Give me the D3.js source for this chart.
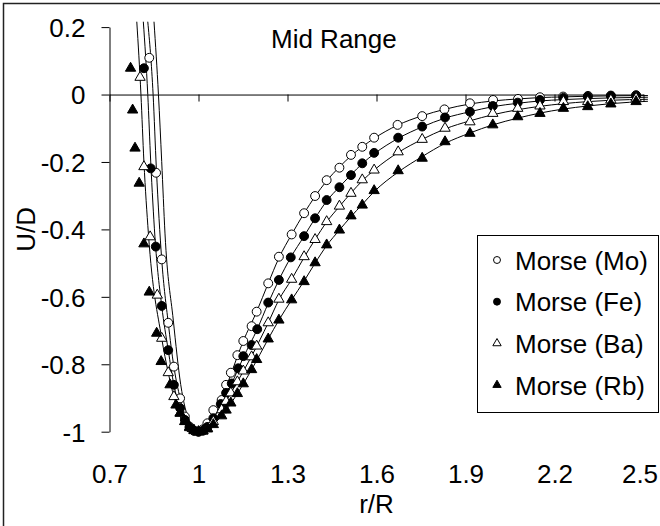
<!DOCTYPE html>
<html>

<head>
  <meta charset="utf-8">
  <title>Morse potentials - Mid Range</title>
  <style>
    body { margin: 0; background: #fff; }
    svg { display: block; font-family: "Liberation Sans", Arial, sans-serif; }
  </style>
</head>

<body>
  <svg width="660" height="526"></svg>
  <script src="https://d3js.org/d3.v7.min.js"></script>
  <script>
    // 1. data (r/R, U/D)
    var xTicks = [0.7, 1, 1.3, 1.6, 1.9, 2.2, 2.5];
    var yTicks = [0.2, 0, -0.2, -0.4, -0.6, -0.8, -1];

    // markers
    var moR = [0.834, 0.857, 0.876, 0.898, 0.917, 0.938, 0.954, 0.970, 0.985, 1.000, 1.015, 1.030, 1.050, 1.078, 1.093, 1.109, 1.131, 1.151, 1.179, 1.196, 1.235, 1.271, 1.314, 1.356, 1.393, 1.432, 1.475, 1.514, 1.552, 1.592, 1.671, 1.754, 1.829, 1.915, 1.993, 2.077, 2.151, 2.229, 2.313, 2.390, 2.475];
    var moU = [0.109, -0.232, -0.489, -0.677, -0.807, -0.901, -0.955, -0.985, -0.997, -1.000, -0.993, -0.975, -0.936, -0.906, -0.861, -0.825, -0.773, -0.731, -0.687, -0.644, -0.560, -0.481, -0.415, -0.352, -0.301, -0.254, -0.217, -0.179, -0.155, -0.128, -0.090, -0.064, -0.044, -0.026, -0.016, -0.013, -0.008, -0.006, -0.004, -0.003, -0.002];

    var feR = [0.816, 0.839, 0.856, 0.876, 0.898, 0.917, 0.938, 0.954, 0.970, 0.985, 1.000, 1.015, 1.030, 1.050, 1.075, 1.093, 1.112, 1.134, 1.151, 1.179, 1.198, 1.235, 1.271, 1.311, 1.356, 1.393, 1.432, 1.475, 1.514, 1.552, 1.592, 1.673, 1.754, 1.831, 1.915, 1.992, 2.076, 2.151, 2.230, 2.312, 2.390, 2.475];
    var feU = [0.078, -0.219, -0.451, -0.627, -0.758, -0.861, -0.930, -0.965, -0.988, -0.997, -1.000, -0.997, -0.986, -0.960, -0.918, -0.885, -0.857, -0.812, -0.776, -0.743, -0.696, -0.617, -0.550, -0.483, -0.420, -0.367, -0.313, -0.275, -0.239, -0.204, -0.173, -0.128, -0.095, -0.068, -0.051, -0.034, -0.024, -0.016, -0.010, -0.006, -0.004, -0.003];

    var baR = [0.803, 0.816, 0.837, 0.861, 0.876, 0.898, 0.917, 0.938, 0.954, 0.970, 0.985, 1.000, 1.015, 1.030, 1.050, 1.078, 1.093, 1.109, 1.131, 1.151, 1.179, 1.196, 1.235, 1.271, 1.314, 1.356, 1.393, 1.432, 1.475, 1.514, 1.552, 1.592, 1.673, 1.754, 1.831, 1.915, 1.992, 2.076, 2.151, 2.230, 2.312, 2.390, 2.475];
    var baU = [0.051, -0.214, -0.422, -0.595, -0.723, -0.825, -0.896, -0.945, -0.970, -0.988, -0.997, -1.000, -0.998, -0.990, -0.970, -0.935, -0.910, -0.885, -0.852, -0.820, -0.778, -0.746, -0.677, -0.607, -0.548, -0.481, -0.430, -0.377, -0.331, -0.293, -0.253, -0.224, -0.170, -0.133, -0.100, -0.081, -0.056, -0.041, -0.034, -0.021, -0.021, -0.016, -0.011];

    var rbR = [0.771, 0.778, 0.786, 0.800, 0.816, 0.834, 0.859, 0.874, 0.904, 0.924, 0.938, 0.954, 0.970, 0.985, 1.000, 1.015, 1.030, 1.050, 1.078, 1.093, 1.109, 1.131, 1.151, 1.179, 1.196, 1.235, 1.271, 1.314, 1.356, 1.393, 1.432, 1.475, 1.514, 1.552, 1.592, 1.673, 1.754, 1.831, 1.915, 1.992, 2.076, 2.151, 2.230, 2.312, 2.390, 2.475];
    var rbU = [0.078, -0.046, -0.159, -0.263, -0.443, -0.586, -0.708, -0.792, -0.861, -0.921, -0.945, -0.970, -0.986, -0.996, -1.000, -0.998, -0.992, -0.979, -0.953, -0.936, -0.915, -0.887, -0.858, -0.816, -0.786, -0.725, -0.669, -0.609, -0.555, -0.499, -0.446, -0.402, -0.360, -0.328, -0.285, -0.226, -0.189, -0.140, -0.115, -0.090, -0.066, -0.056, -0.041, -0.036, -0.028, -0.021];

    // fitted curves
    var moLineR = [0.829, 0.847, 0.858, 0.876, 0.898, 0.917, 0.938, 0.954, 0.970, 0.985, 1.000, 1.015, 1.030, 1.050, 1.078, 1.109, 1.151, 1.196, 1.235, 1.271, 1.314, 1.356, 1.393, 1.432, 1.475, 1.514, 1.552, 1.592, 1.671, 1.754, 1.829, 1.915, 1.993, 2.077, 2.151, 2.229, 2.313, 2.390, 2.515];
    var moLineU = [0.216, 0.000, -0.220, -0.489, -0.677, -0.807, -0.901, -0.955, -0.985, -0.997, -1.000, -0.993, -0.975, -0.945, -0.903, -0.830, -0.731, -0.644, -0.560, -0.485, -0.415, -0.352, -0.302, -0.256, -0.215, -0.182, -0.155, -0.130, -0.091, -0.063, -0.044, -0.028, -0.019, -0.013, -0.009, -0.007, -0.005, -0.004, -0.003];

    var feLineR = [0.814, 0.829, 0.839, 0.853, 0.876, 0.898, 0.917, 0.938, 0.970, 1.000, 1.015, 1.030, 1.050, 1.075, 1.112, 1.151, 1.198, 1.235, 1.271, 1.311, 1.356, 1.393, 1.432, 1.475, 1.514, 1.552, 1.592, 1.673, 1.754, 1.831, 1.915, 1.992, 2.076, 2.151, 2.230, 2.312, 2.390, 2.515];
    var feLineU = [0.216, 0.000, -0.200, -0.420, -0.627, -0.758, -0.861, -0.930, -0.988, -1.000, -0.997, -0.986, -0.962, -0.922, -0.857, -0.780, -0.696, -0.619, -0.550, -0.483, -0.420, -0.367, -0.316, -0.274, -0.238, -0.205, -0.176, -0.130, -0.096, -0.070, -0.051, -0.036, -0.026, -0.019, -0.015, -0.012, -0.010, -0.008];

    var baLineR = [0.792, 0.806, 0.816, 0.831, 0.876, 0.898, 0.917, 0.938, 0.970, 1.000, 1.015, 1.030, 1.050, 1.093, 1.131, 1.179, 1.235, 1.271, 1.314, 1.356, 1.393, 1.432, 1.475, 1.514, 1.552, 1.592, 1.673, 1.754, 1.831, 1.915, 1.992, 2.076, 2.151, 2.230, 2.312, 2.390, 2.515];
    var baLineU = [0.216, 0.000, -0.199, -0.411, -0.723, -0.825, -0.896, -0.945, -0.988, -1.000, -0.998, -0.990, -0.972, -0.910, -0.852, -0.776, -0.677, -0.609, -0.548, -0.483, -0.430, -0.378, -0.332, -0.292, -0.256, -0.224, -0.172, -0.133, -0.102, -0.078, -0.060, -0.045, -0.035, -0.027, -0.021, -0.017, -0.014];

    var rbLineR = [0.850, 0.865, 0.876, 0.887, 0.915, 0.940, 0.970, 1.000, 1.015, 1.030, 1.050, 1.093, 1.131, 1.179, 1.235, 1.271, 1.314, 1.356, 1.393, 1.432, 1.475, 1.514, 1.552, 1.592, 1.673, 1.754, 1.831, 1.915, 1.992, 2.076, 2.151, 2.230, 2.312, 2.390, 2.515];
    var rbLineU = [0.216, 0.000, -0.199, -0.411, -0.669, -0.860, -0.970, -1.000, -0.998, -0.992, -0.979, -0.936, -0.887, -0.816, -0.725, -0.669, -0.609, -0.553, -0.500, -0.448, -0.402, -0.362, -0.326, -0.288, -0.230, -0.184, -0.145, -0.114, -0.090, -0.070, -0.055, -0.043, -0.034, -0.027, -0.020];

    var series = [
      { name: "Morse (Mo)", r: moR, u: moU, lr: moLineR, lu: moLineU, shape: d3.symbolCircle, fill: "white" },
      { name: "Morse (Fe)", r: feR, u: feU, lr: feLineR, lu: feLineU, shape: d3.symbolCircle, fill: "black" },
      { name: "Morse (Ba)", r: baR, u: baU, lr: baLineR, lu: baLineU, shape: d3.symbolTriangle, fill: "white" },
      { name: "Morse (Rb)", r: rbR, u: rbU, lr: rbLineR, lu: rbLineU, shape: d3.symbolTriangle, fill: "black" }
    ];

    // 2. scales
    var svg = d3.select("svg");
    var x = d3.scaleLinear().domain([0.7, 2.5]).range([109.5, 643.5]);
    var y = d3.scaleLinear().domain([-1, 0.2]).range([431.7, 27.1]);

    // outer frame
    svg.append("rect")
      .attr("x", 3.5).attr("y", 3.5)
      .attr("width", 700).attr("height", 600)
      .attr("fill", "none").attr("stroke", "#222").attr("stroke-width", 1.5);

    svg.append("clipPath").attr("id", "plot")
      .append("rect")
      .attr("x", x(0.7)).attr("y", y(0.2) - 6)
      .attr("width", x(2.5) - x(0.7) + 6).attr("height", y(-1) - y(0.2) + 20);

    // 3. axes
    var yAxis = svg.append("g")
      .attr("transform", "translate(" + x(0.7) + ",0)")
      .call(d3.axisLeft(y).tickValues(yTicks).tickSize(8).tickSizeOuter(0)
        .tickPadding(16).tickFormat(function (d) { return String(d); }));

    var xAxis = svg.append("g")
      .attr("transform", "translate(0," + y(0) + ")")
      .call(d3.axisBottom(x).tickValues(xTicks).tickSize(7).tickSizeOuter(0)
        .tickFormat(""));

    var xLabels = svg.append("g")
      .attr("transform", "translate(0,464.5)")
      .call(d3.axisBottom(x).tickValues(xTicks).tickSize(0).tickPadding(0)
        .tickFormat(function (d) { return String(d); }));
    xLabels.select(".domain").remove();

    svg.selectAll(".tick text")
      .attr("font-size", 26)
      .attr("font-family", "'Liberation Sans', Arial, sans-serif")
      .attr("fill", "black");
    yAxis.selectAll(".tick text").attr("dy", "0.36em");
    // last label is pushed inward so it stays inside the frame
    xLabels.selectAll(".tick text")
      .filter(function (d) { return d === xTicks[xTicks.length - 1]; })
      .attr("x", -4);
    svg.selectAll(".domain, .tick line").attr("stroke", "black").attr("stroke-width", 1);

    svg.append("text")
      .attr("transform", "translate(35," + ((y(0.2) + y(-1)) / 2) + ") rotate(-90)")
      .attr("text-anchor", "middle")
      .attr("font-size", 26)
      .text("U/D");

    svg.append("text")
      .attr("x", (x(0.7) + x(2.5)) / 2).attr("y", 513)
      .attr("text-anchor", "middle")
      .attr("font-size", 26)
      .text("r/R");

    svg.append("text")
      .attr("x", 271).attr("y", 48)
      .attr("font-size", 26)
      .text("Mid Range");

    // 4. curves and markers
    var line = d3.line()
      .x(function (d) { return x(d[0]); })
      .y(function (d) { return y(d[1]); })
      .curve(d3.curveMonotoneX);

    var plot = svg.append("g").attr("clip-path", "url(#plot)");

    series.forEach(function (s) {
      plot.append("path")
        .datum(d3.zip(s.lr, s.lu))
        .attr("d", line)
        .attr("fill", "none")
        .attr("stroke", "black")
        .attr("stroke-width", 1);
    });

    series.forEach(function (s) {
      var size = s.shape === d3.symbolCircle ? 62 : 46;
      plot.append("g").selectAll("path")
        .data(d3.zip(s.r, s.u))
        .enter()
        .append("path")
        .attr("transform", function (d) { return "translate(" + x(d[0]) + "," + y(d[1]) + ")"; })
        .attr("d", d3.symbol().type(s.shape).size(size))
        .attr("fill", s.fill)
        .attr("stroke", "black")
        .attr("stroke-width", 1);
    });

    // 5. legend
    var legend = svg.append("g");
    legend.append("rect")
      .attr("x", 477.5).attr("y", 235.5)
      .attr("width", 181).attr("height", 177)
      .attr("fill", "white").attr("stroke", "black").attr("stroke-width", 1);

    var rowY = d3.scalePoint().domain(series.map(function (s) { return s.name; })).range([260, 385]);

    series.forEach(function (s) {
      var cy = rowY(s.name);
      var size = s.shape === d3.symbolCircle ? 38 : 30;
      legend.append("path")
        .attr("transform", "translate(497," + cy + ")")
        .attr("d", d3.symbol().type(s.shape).size(size))
        .attr("fill", s.fill)
        .attr("stroke", "black")
        .attr("stroke-width", 1);
      legend.append("text")
        .attr("x", 515).attr("y", cy + 9.5)
        .attr("font-size", 26)
        .text(s.name);
    });
  </script>
</body>

</html>
